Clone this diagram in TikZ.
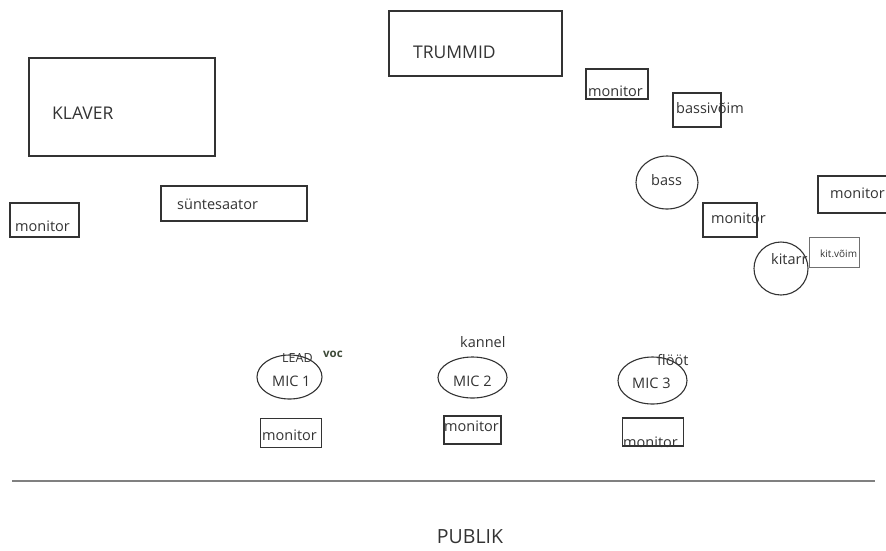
\documentclass[tikz,border=0pt]{standalone}
\usepackage{fontspec}
\setmainfont{Open Sans}
\usetikzlibrary{shapes.geometric}
\definecolor{tint}{HTML}{333333}
\definecolor{rohe}{HTML}{3E4A38}
\tikzset{
  kast/.style={draw=tint,line width=1.3pt,inner sep=0pt},
  ring/.style={draw=tint,line width=1.1pt,ellipse,inner sep=0pt},
  silt/.style={text=tint,inner sep=0pt,anchor=west,font=\fontsize{14.5}{16}\selectfont},
}
\begin{document}
\begin{tikzpicture}[x=1pt,y=-1pt]
        \useasboundingbox (0,0) rectangle (886,550);
        % Klaver ja trummid
        \node[kast,minimum width=186pt,minimum height=98pt] (klaver) at (122,107) {};
        \node[silt,font=\fontsize{17.5}{19}\selectfont] (klaverS) at (52,113) {KLAVER};
        \node[kast,minimum width=173pt,minimum height=65pt] (trummid) at (475.5,43.5) {};
        \node[silt,font=\fontsize{17.5}{19}\selectfont] (trummidS) at (413,52) {TRUMMID};
        % Süntesaator
        \node[kast,minimum width=146pt,minimum height=35pt] (synt) at (234,203.5) {};
        \node[silt] (syntS) at (177,204) {süntesaator};
        % Monitorid laval
        \node[kast,minimum width=69pt,minimum height=34pt] (monA) at (44.5,220) {};
        \node[silt] (monAS) at (15,226) {monitor};
        \node[kast,minimum width=62pt,minimum height=30pt] (monB) at (617,84) {};
        \node[silt] (monBS) at (588,91) {monitor};
        \node[kast,minimum width=54pt,minimum height=34pt] (monC) at (730,220) {};
        \node[silt] (monCS) at (711,218) {monitor};
        \node[kast,minimum width=80pt,minimum height=37pt] (monD) at (858,194.5) {};
        \node[silt] (monDS) at (830,193) {monitor};
        % Bass
        \node[kast,minimum width=48pt,minimum height=34pt] (bassV) at (697,110) {};
        \node[silt] (bassVS) at (676,108) {bassivõim};
        \node[ring,minimum width=62pt,minimum height=53pt] (bass) at (667,182.5) {};
        \node[silt] (bassS) at (651,180) {bass};
        % Kitarr
        \node[draw=tint!70,line width=0.8pt,minimum width=50pt,minimum height=30pt,inner sep=0pt] (kitV) at (834,252) {};
        \node[silt,font=\fontsize{10}{12}\selectfont] (kitVS) at (820,254) {kit.võim};
        \node[ring,minimum width=54pt,minimum height=53pt] (kitarr) at (781,268.5) {};
        \node[silt] (kitarrS) at (771,259) {kitarr};
        % Mikrofonid
        \node[ring,minimum width=65pt,minimum height=44pt] (mic1) at (289.5,377) {};
        \node[silt] (mic1S) at (272,381) {MIC 1};
        \node[silt,font=\fontsize{12.5}{14}\selectfont] (lead) at (282,358) {LEAD};
        \node[silt,text=rohe,font=\bfseries\fontsize{11.5}{13}\selectfont] (voc) at (323,354) {voc};
        \node[ring,minimum width=69pt,minimum height=41pt] (mic2) at (472.5,377.5) {};
        \node[silt] (mic2S) at (453,381) {MIC 2};
        \node[silt] (kannel) at (460,342) {kannel};
        \node[ring,minimum width=69pt,minimum height=47pt] (mic3) at (652.5,380.5) {};
        \node[silt] (mic3S) at (632,383) {MIC 3};
        \node[silt] (floot) at (657,360) {flööt};
        % Monitorid ees
        \node[kast,minimum width=61pt,minimum height=29pt] (mon1) at (291,433) {};
        \node[silt] (mon1S) at (262,435) {monitor};
        \node[kast,minimum width=57pt,minimum height=28pt] (mon2) at (472.5,430) {};
        \node[silt] (mon2S) at (444,426) {monitor};
        \node[kast,minimum width=61pt,minimum height=28pt] (mon3) at (653,432) {};
        \node[silt] (mon3S) at (623,442) {monitor};
        % Lava serv ja publik
        \coordinate (servA) at (12,481);
        \coordinate (servB) at (875,481);
        \draw[gray,line width=1.3pt] (servA) -- (servB);
        \node[silt,anchor=center,font=\fontsize{19.5}{21}\selectfont] (publik) at (470,537) {PUBLIK};
    \end{tikzpicture}
\end{document}
